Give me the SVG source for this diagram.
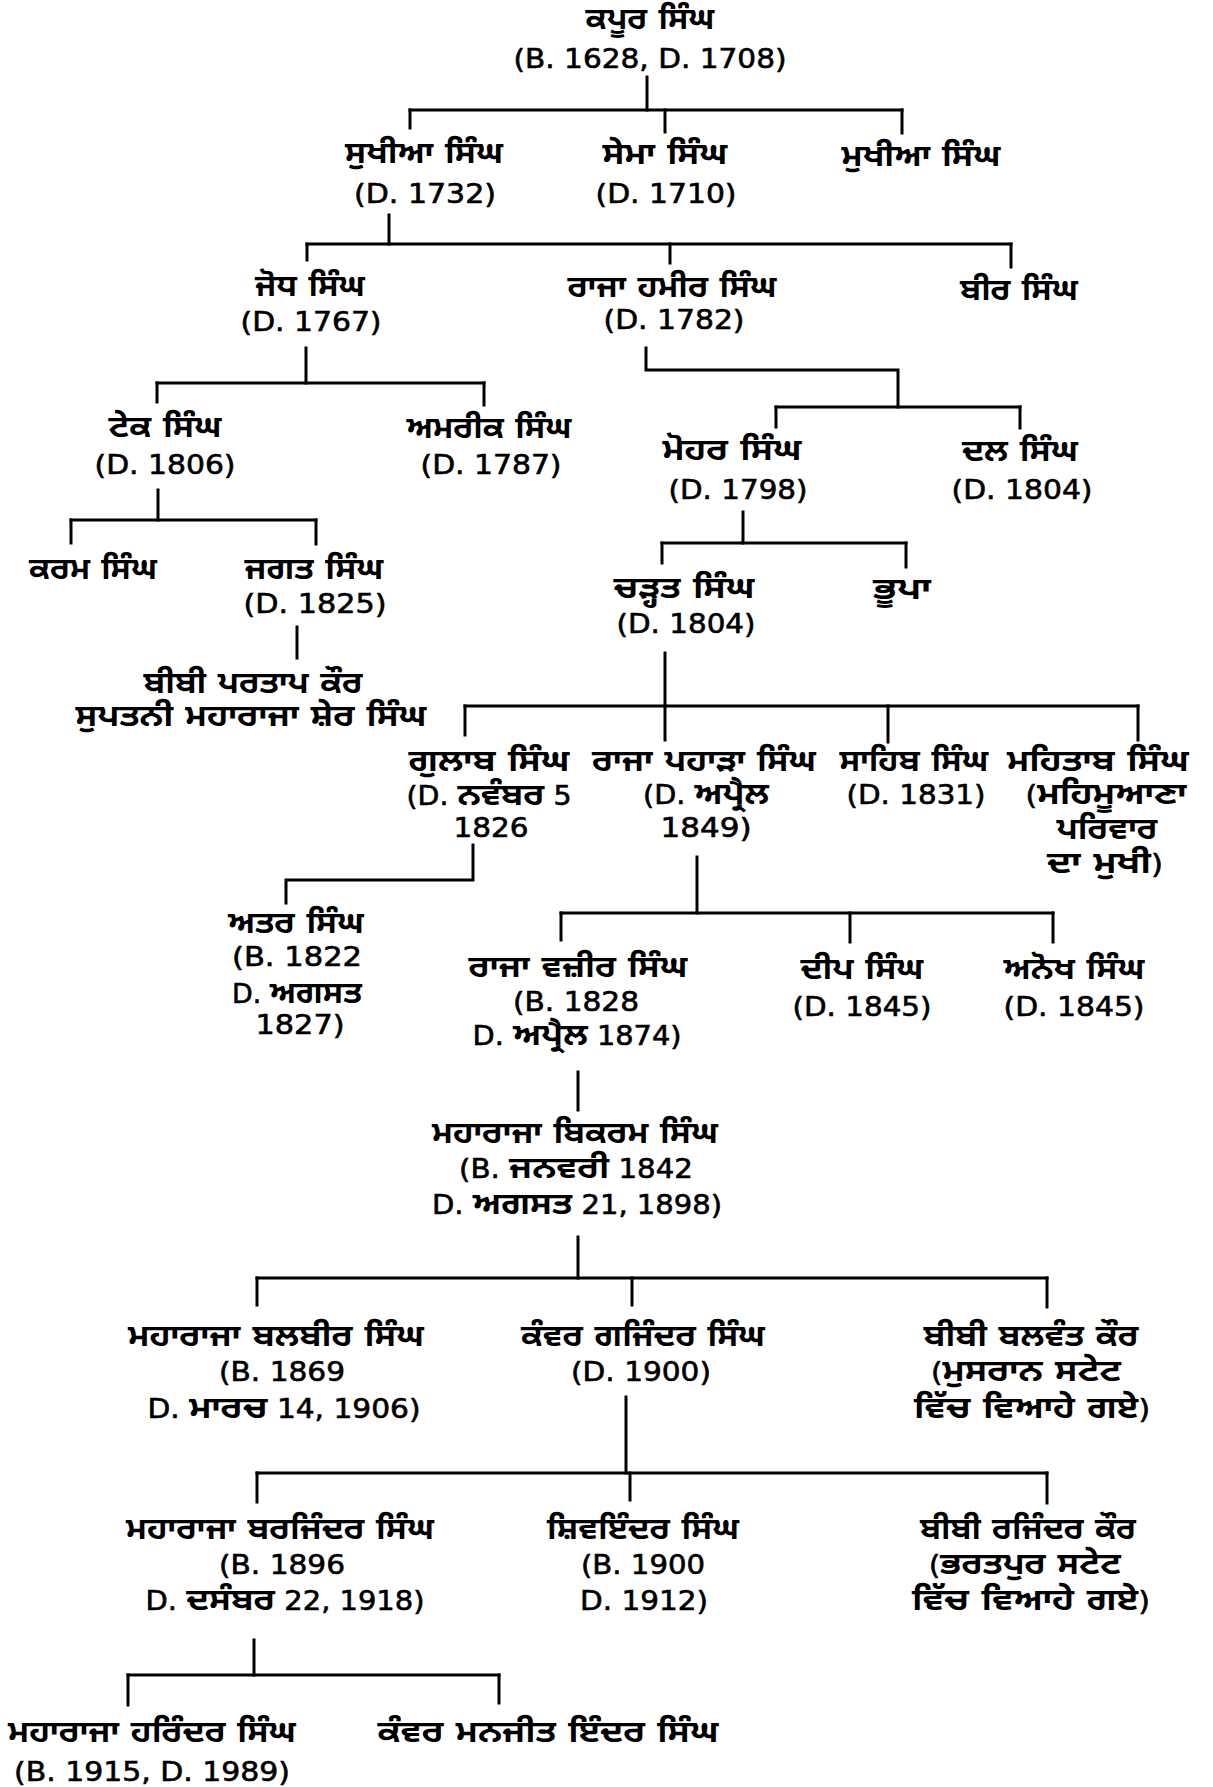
<svg xmlns="http://www.w3.org/2000/svg" width="1213" height="1787" viewBox="0 0 1213 1787">
<style>
text{font-family:"DejaVu Sans","Noto Sans Gurmukhi","Lohit Gurmukhi","FreeSans","Noto Sans",sans-serif;fill:#000;text-anchor:middle;}
.n{font-size:31px;font-weight:bold;}
.d{font-size:26px;font-weight:normal;stroke:#000;stroke-width:0.6;}
.b{font-size:31px;font-weight:bold;stroke-width:0;}
#connectors line,#connectors polyline{stroke:#000;stroke-width:3;fill:none;stroke-linecap:square;}
</style>
<rect width="1213" height="1787" fill="#fff"/>
<g id="connectors">
<line x1="647" y1="77" x2="647" y2="110"/>
<line x1="410" y1="110" x2="902" y2="110"/>
<line x1="410" y1="110" x2="410" y2="128"/>
<line x1="665" y1="110" x2="665" y2="132"/>
<line x1="902" y1="110" x2="902" y2="133"/>
<line x1="389" y1="215" x2="389" y2="244"/>
<line x1="307" y1="244" x2="1011" y2="244"/>
<line x1="307" y1="244" x2="307" y2="260"/>
<line x1="670" y1="244" x2="670" y2="263"/>
<line x1="1011" y1="244" x2="1011" y2="267"/>
<line x1="306" y1="348" x2="306" y2="383"/>
<line x1="157" y1="383" x2="484" y2="383"/>
<line x1="157" y1="383" x2="157" y2="402"/>
<line x1="484" y1="383" x2="484" y2="405"/>
<polyline points="646,348 646,370 898,370 898,407"/>
<line x1="776" y1="407" x2="1020" y2="407"/>
<line x1="776" y1="407" x2="776" y2="427"/>
<line x1="1020" y1="407" x2="1020" y2="428"/>
<line x1="158" y1="490" x2="158" y2="520"/>
<line x1="71" y1="520" x2="316" y2="520"/>
<line x1="71" y1="520" x2="71" y2="543"/>
<line x1="316" y1="520" x2="316" y2="544"/>
<line x1="297" y1="627" x2="297" y2="658"/>
<line x1="743" y1="512" x2="743" y2="543"/>
<line x1="662" y1="543" x2="906" y2="543"/>
<line x1="662" y1="543" x2="662" y2="563"/>
<line x1="906" y1="543" x2="906" y2="567"/>
<line x1="665" y1="653" x2="665" y2="706"/>
<line x1="465" y1="706" x2="1138" y2="706"/>
<line x1="465" y1="706" x2="465" y2="735"/>
<line x1="665" y1="706" x2="665" y2="740"/>
<line x1="888" y1="706" x2="888" y2="742"/>
<line x1="1138" y1="706" x2="1138" y2="740"/>
<polyline points="473,845 473,880 286,880 286,903"/>
<line x1="697" y1="857" x2="697" y2="913"/>
<line x1="561" y1="913" x2="1053" y2="913"/>
<line x1="561" y1="913" x2="561" y2="940"/>
<line x1="850" y1="913" x2="850" y2="942"/>
<line x1="1053" y1="913" x2="1053" y2="942"/>
<line x1="578" y1="1072" x2="578" y2="1110"/>
<line x1="578" y1="1237" x2="578" y2="1278"/>
<line x1="257" y1="1278" x2="1047" y2="1278"/>
<line x1="257" y1="1278" x2="257" y2="1305"/>
<line x1="632" y1="1278" x2="632" y2="1305"/>
<line x1="1047" y1="1278" x2="1047" y2="1307"/>
<line x1="626" y1="1397" x2="626" y2="1473"/>
<line x1="257" y1="1473" x2="1047" y2="1473"/>
<line x1="257" y1="1473" x2="257" y2="1502"/>
<line x1="630" y1="1473" x2="630" y2="1500"/>
<line x1="1047" y1="1473" x2="1047" y2="1503"/>
<line x1="254" y1="1640" x2="254" y2="1675"/>
<line x1="128" y1="1675" x2="499" y2="1675"/>
<line x1="128" y1="1675" x2="128" y2="1705"/>
<line x1="499" y1="1675" x2="499" y2="1703"/>
</g>
<g id="kapur-singh"><text class="n" x="650" y="29" textLength="129" lengthAdjust="spacingAndGlyphs">ਕਪੂਰ ਸਿੰਘ</text><text class="d" x="650" y="68" textLength="273" lengthAdjust="spacingAndGlyphs">(B. 1628, D. 1708)</text></g>
<g id="sukhia-singh"><text class="n" x="424" y="163" textLength="158" lengthAdjust="spacingAndGlyphs">ਸੁਖੀਆ ਸਿੰਘ</text><text class="d" x="425" y="203" textLength="142" lengthAdjust="spacingAndGlyphs">(D. 1732)</text></g>
<g id="sema-singh"><text class="n" x="665" y="164" textLength="125" lengthAdjust="spacingAndGlyphs">ਸੇਮਾ ਸਿੰਘ</text><text class="d" x="666" y="203" textLength="141" lengthAdjust="spacingAndGlyphs">(D. 1710)</text></g>
<g id="mukhia-singh"><text class="n" x="921" y="166" textLength="159" lengthAdjust="spacingAndGlyphs">ਮੁਖੀਆ ਸਿੰਘ</text></g>
<g id="jodh-singh"><text class="n" x="310" y="296" textLength="110" lengthAdjust="spacingAndGlyphs">ਜੋਧ ਸਿੰਘ</text><text class="d" x="311" y="331" textLength="141" lengthAdjust="spacingAndGlyphs">(D. 1767)</text></g>
<g id="hamir-singh"><text class="n" x="672" y="297" textLength="209" lengthAdjust="spacingAndGlyphs">ਰਾਜਾ ਹਮੀਰ ਸਿੰਘ</text><text class="d" x="674" y="329" textLength="141" lengthAdjust="spacingAndGlyphs">(D. 1782)</text></g>
<g id="bir-singh"><text class="n" x="1019" y="300" textLength="118" lengthAdjust="spacingAndGlyphs">ਬੀਰ ਸਿੰਘ</text></g>
<g id="tek-singh"><text class="n" x="165" y="437" textLength="113" lengthAdjust="spacingAndGlyphs">ਟੇਕ ਸਿੰਘ</text><text class="d" x="165" y="474" textLength="141" lengthAdjust="spacingAndGlyphs">(D. 1806)</text></g>
<g id="amrik-singh"><text class="n" x="489" y="438" textLength="165" lengthAdjust="spacingAndGlyphs">ਅਮਰੀਕ ਸਿੰਘ</text><text class="d" x="491" y="474" textLength="141" lengthAdjust="spacingAndGlyphs">(D. 1787)</text></g>
<g id="mohar-singh"><text class="n" x="732" y="460" textLength="139" lengthAdjust="spacingAndGlyphs">ਮੋਹਰ ਸਿੰਘ</text><text class="d" x="738" y="499" textLength="139" lengthAdjust="spacingAndGlyphs">(D. 1798)</text></g>
<g id="dal-singh"><text class="n" x="1020" y="461" textLength="116" lengthAdjust="spacingAndGlyphs">ਦਲ ਸਿੰਘ</text><text class="d" x="1022" y="499" textLength="141" lengthAdjust="spacingAndGlyphs">(D. 1804)</text></g>
<g id="karam-singh"><text class="n" x="93" y="579" textLength="128" lengthAdjust="spacingAndGlyphs">ਕਰਮ ਸਿੰਘ</text></g>
<g id="jagat-singh"><text class="n" x="314" y="579" textLength="139" lengthAdjust="spacingAndGlyphs">ਜਗਤ ਸਿੰਘ</text><text class="d" x="315" y="613" textLength="143" lengthAdjust="spacingAndGlyphs">(D. 1825)</text></g>
<g id="bibi-partap-kaur"><text class="n" x="253" y="693" textLength="219" lengthAdjust="spacingAndGlyphs">ਬੀਬੀ ਪਰਤਾਪ ਕੌਰ</text><text class="n" x="251" y="726" textLength="351" lengthAdjust="spacingAndGlyphs">ਸੁਪਤਨੀ ਮਹਾਰਾਜਾ ਸ਼ੇਰ ਸਿੰਘ</text></g>
<g id="charhat-singh"><text class="n" x="684" y="598" textLength="141" lengthAdjust="spacingAndGlyphs">ਚੜ੍ਹਤ ਸਿੰਘ</text><text class="d" x="686" y="633" textLength="139" lengthAdjust="spacingAndGlyphs">(D. 1804)</text></g>
<g id="bhupa"><text class="n" x="902" y="599" textLength="58" lengthAdjust="spacingAndGlyphs">ਭੂਪਾ</text></g>
<g id="gulab-singh"><text class="n" x="489" y="771" textLength="161" lengthAdjust="spacingAndGlyphs">ਗੁਲਾਬ ਸਿੰਘ</text><text class="d" x="489" y="805" textLength="165" lengthAdjust="spacingAndGlyphs">(D. <tspan class="b">ਨਵੰਬਰ</tspan> 5</text><text class="d" x="491" y="837" textLength="75" lengthAdjust="spacingAndGlyphs">1826</text></g>
<g id="pahara-singh"><text class="n" x="704" y="771" textLength="224" lengthAdjust="spacingAndGlyphs">ਰਾਜਾ ਪਹਾੜਾ ਸਿੰਘ</text><text class="d" x="706" y="804" textLength="126" lengthAdjust="spacingAndGlyphs">(D. <tspan class="b">ਅਪ੍ਰੈਲ</tspan></text><text class="d" x="706" y="837" textLength="91" lengthAdjust="spacingAndGlyphs">1849)</text></g>
<g id="sahib-singh"><text class="n" x="914" y="771" textLength="149" lengthAdjust="spacingAndGlyphs">ਸਾਹਿਬ ਸਿੰਘ</text><text class="d" x="916" y="804" textLength="139" lengthAdjust="spacingAndGlyphs">(D. 1831)</text></g>
<g id="mehtab-singh"><text class="n" x="1098" y="771" textLength="182" lengthAdjust="spacingAndGlyphs">ਮਹਿਤਾਬ ਸਿੰਘ</text><text class="d" x="1106" y="804" textLength="161" lengthAdjust="spacingAndGlyphs">(<tspan class="b">ਮਹਿਮੂਆਣਾ</tspan></text><text class="n" x="1107" y="839" textLength="101" lengthAdjust="spacingAndGlyphs">ਪਰਿਵਾਰ</text><text class="d" x="1105" y="873" textLength="116" lengthAdjust="spacingAndGlyphs"><tspan class="b">ਦਾ ਮੁਖੀ</tspan>)</text></g>
<g id="atar-singh"><text class="n" x="296" y="933" textLength="136" lengthAdjust="spacingAndGlyphs">ਅਤਰ ਸਿੰਘ</text><text class="d" x="297" y="966" textLength="130" lengthAdjust="spacingAndGlyphs">(B. 1822</text><text class="d" x="297" y="1003" textLength="130" lengthAdjust="spacingAndGlyphs">D. <tspan class="b">ਅਗਸਤ</tspan></text><text class="d" x="300" y="1034" textLength="89" lengthAdjust="spacingAndGlyphs">1827)</text></g>
<g id="wazir-singh"><text class="n" x="578" y="977" textLength="219" lengthAdjust="spacingAndGlyphs">ਰਾਜਾ ਵਜ਼ੀਰ ਸਿੰਘ</text><text class="d" x="576" y="1011" textLength="126" lengthAdjust="spacingAndGlyphs">(B. 1828</text><text class="d" x="577" y="1045" textLength="209" lengthAdjust="spacingAndGlyphs">D. <tspan class="b">ਅਪ੍ਰੈਲ</tspan> 1874)</text></g>
<g id="deep-singh"><text class="n" x="862" y="979" textLength="123" lengthAdjust="spacingAndGlyphs">ਦੀਪ ਸਿੰਘ</text><text class="d" x="862" y="1016" textLength="139" lengthAdjust="spacingAndGlyphs">(D. 1845)</text></g>
<g id="anokh-singh"><text class="n" x="1074" y="979" textLength="141" lengthAdjust="spacingAndGlyphs">ਅਨੋਖ ਸਿੰਘ</text><text class="d" x="1074" y="1016" textLength="141" lengthAdjust="spacingAndGlyphs">(D. 1845)</text></g>
<g id="bikram-singh"><text class="n" x="575" y="1143" textLength="286" lengthAdjust="spacingAndGlyphs">ਮਹਾਰਾਜਾ ਬਿਕਰਮ ਸਿੰਘ</text><text class="d" x="576" y="1178" textLength="234" lengthAdjust="spacingAndGlyphs">(B. <tspan class="b">ਜਨਵਰੀ</tspan> 1842</text><text class="d" x="577" y="1214" textLength="290" lengthAdjust="spacingAndGlyphs">D. <tspan class="b">ਅਗਸਤ</tspan> 21, 1898)</text></g>
<g id="balbir-singh"><text class="n" x="276" y="1346" textLength="296" lengthAdjust="spacingAndGlyphs">ਮਹਾਰਾਜਾ ਬਲਬੀਰ ਸਿੰਘ</text><text class="d" x="282" y="1381" textLength="126" lengthAdjust="spacingAndGlyphs">(B. 1869</text><text class="d" x="284" y="1418" textLength="273" lengthAdjust="spacingAndGlyphs">D. <tspan class="b">ਮਾਰਚ</tspan> 14, 1906)</text></g>
<g id="gajinder-singh"><text class="n" x="643" y="1346" textLength="244" lengthAdjust="spacingAndGlyphs">ਕੰਵਰ ਗਜਿੰਦਰ ਸਿੰਘ</text><text class="d" x="641" y="1381" textLength="140" lengthAdjust="spacingAndGlyphs">(D. 1900)</text></g>
<g id="bibi-balwant-kaur"><text class="n" x="1031" y="1346" textLength="215" lengthAdjust="spacingAndGlyphs">ਬੀਬੀ ਬਲਵੰਤ ਕੌਰ</text><text class="d" x="1026" y="1381" textLength="190" lengthAdjust="spacingAndGlyphs">(<tspan class="b">ਮੁਸਰਾਨ ਸਟੇਟ</tspan></text><text class="d" x="1032" y="1418" textLength="236" lengthAdjust="spacingAndGlyphs"><tspan class="b">ਵਿੱਚ ਵਿਆਹੇ ਗਏ</tspan>)</text></g>
<g id="barjinder-singh"><text class="n" x="280" y="1539" textLength="308" lengthAdjust="spacingAndGlyphs">ਮਹਾਰਾਜਾ ਬਰਜਿੰਦਰ ਸਿੰਘ</text><text class="d" x="282" y="1574" textLength="126" lengthAdjust="spacingAndGlyphs">(B. 1896</text><text class="d" x="285" y="1610" textLength="279" lengthAdjust="spacingAndGlyphs">D. <tspan class="b">ਦਸੰਬਰ</tspan> 22, 1918)</text></g>
<g id="shivinder-singh"><text class="n" x="643" y="1539" textLength="192" lengthAdjust="spacingAndGlyphs">ਸ਼ਿਵਇੰਦਰ ਸਿੰਘ</text><text class="d" x="643" y="1574" textLength="124" lengthAdjust="spacingAndGlyphs">(B. 1900</text><text class="d" x="644" y="1610" textLength="128" lengthAdjust="spacingAndGlyphs">D. 1912)</text></g>
<g id="bibi-rajinder-kaur"><text class="n" x="1028" y="1539" textLength="216" lengthAdjust="spacingAndGlyphs">ਬੀਬੀ ਰਜਿੰਦਰ ਕੌਰ</text><text class="d" x="1025" y="1574" textLength="192" lengthAdjust="spacingAndGlyphs">(<tspan class="b">ਭਰਤਪੁਰ ਸਟੇਟ</tspan></text><text class="d" x="1031" y="1610" textLength="238" lengthAdjust="spacingAndGlyphs"><tspan class="b">ਵਿੱਚ ਵਿਆਹੇ ਗਏ</tspan>)</text></g>
<g id="harinder-singh"><text class="n" x="152" y="1742" textLength="288" lengthAdjust="spacingAndGlyphs">ਮਹਾਰਾਜਾ ਹਰਿੰਦਰ ਸਿੰਘ</text><text class="d" x="152" y="1781" textLength="276" lengthAdjust="spacingAndGlyphs">(B. 1915, D. 1989)</text></g>
<g id="manjit-inder-singh"><text class="n" x="548" y="1742" textLength="341" lengthAdjust="spacingAndGlyphs">ਕੰਵਰ ਮਨਜੀਤ ਇੰਦਰ ਸਿੰਘ</text></g>
</svg>
